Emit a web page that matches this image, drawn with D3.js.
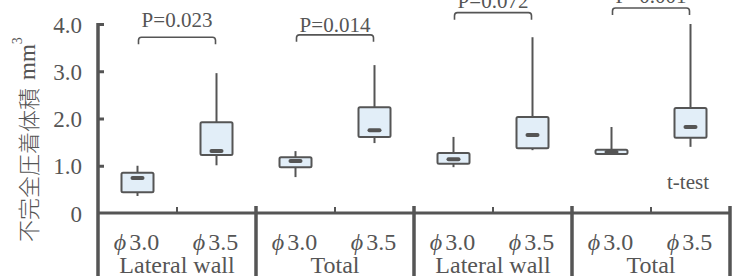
<!DOCTYPE html>
<html>
<head>
<meta charset="utf-8">
<script src="https://cdn.jsdelivr.net/npm/d3@7"></script>
<style>
  body { margin: 0; background: #fff; }
  svg { display: block; }
  text { font-family: "Liberation Serif", "DejaVu Serif", serif; }
</style>
</head>
<body>
<div class="visualization"></div>
<script>
// data (volume, mm^3)
const groups = ['Lateral wall', 'Total', 'Lateral wall ', 'Total '];
const sizes = ['3.0', '3.5'];
const mins    = [0.36, 1.01, 0.76, 1.48, 0.97, 1.33, 1.25, 1.40];
const q1s     = [0.44, 1.23, 0.97, 1.61, 1.04, 1.37, 1.25, 1.59];
const medians = [0.74, 1.31, 1.10, 1.75, 1.14, 1.65, 1.29, 1.82];
const q3s     = [0.85, 1.92, 1.18, 2.24, 1.27, 2.03, 1.34, 2.22];
const maxs    = [1.00, 2.96, 1.31, 3.13, 1.61, 3.72, 1.82, 4.00];
const pLabels = ['P=0.023', 'P=0.014', 'P=0.072', 'P=0.001'];
const bracketLevels = [3.72, 3.77, 4.24, 4.34];
const yTicks = [0, 1, 2, 3, 4];

const width = 741, height = 276;
const ink = '#555';
const serif = 'Liberation Serif, DejaVu Serif, serif';

const svg = d3.select('.visualization').append('svg')
    .attr('width', width)
    .attr('height', height)
    .attr('font-family', serif);

const y = d3.scaleLinear().domain([0, 4]).range([213, 24]);
const xGroup = d3.scaleBand().domain(groups).range([98, 730]).padding(0);
const xInner = d3.scalePoint().domain(sizes).range([0, xGroup.bandwidth()]).padding(0.5);

const boxes = [];
groups.forEach((g, gi) => sizes.forEach((s, si) => {
    const i = gi * 2 + si;
    boxes.push({g, s, min: mins[i], q1: q1s[i], med: medians[i], q3: q3s[i], max: maxs[i]});
}));
const cx = d => xGroup(d.g) + xInner(d.s);
const boxW = 32;

// y axis
const yAxis = svg.append('g')
    .attr('transform', 'translate(98,0)')
    .call(d3.axisRight(y).tickValues(yTicks).tickSize(6)
        .tickFormat(d => d === 0 ? '0' : d3.format('.1f')(d)));
yAxis.attr('font-family', serif);
yAxis.select('.domain').remove();
yAxis.selectAll('.tick line').attr('stroke', ink).attr('stroke-width', 3)
    .filter(d => d === 0).remove();
yAxis.selectAll('.tick text')
    .attr('x', -16).attr('dy', '0.35em')
    .attr('text-anchor', 'end')
    .attr('font-size', 23).attr('fill', ink);
svg.append('line')
    .attr('x1', 98).attr('x2', 98).attr('y1', y(4) - 1).attr('y2', height)
    .attr('stroke', ink).attr('stroke-width', 3.5);

// x axis and dividers
svg.append('line')
    .attr('x1', 98).attr('x2', 731).attr('y1', y(0)).attr('y2', y(0))
    .attr('stroke', ink).attr('stroke-width', 3);
svg.append('g').selectAll('line')
    .data(groups.slice(1).map(g => xGroup(g)).concat([xGroup.range()[1]]))
    .join('line')
    .attr('x1', d => d).attr('x2', d => d)
    .attr('y1', y(0) - 7).attr('y2', height)
    .attr('stroke', ink).attr('stroke-width', 3.5);
svg.append('g').selectAll('line')
    .data(groups)
    .join('line')
    .attr('x1', d => xGroup(d) + xGroup.bandwidth() / 2)
    .attr('x2', d => xGroup(d) + xGroup.bandwidth() / 2)
    .attr('y1', y(0) - 6).attr('y2', y(0))
    .attr('stroke', ink).attr('stroke-width', 2);

// x labels
const sizeLabels = svg.append('g').selectAll('text')
    .data(boxes)
    .join('text')
    .attr('x', d => cx(d) - 1)
    .attr('y', 250)
    .attr('text-anchor', 'middle')
    .attr('font-size', 24).attr('fill', ink);
sizeLabels.append('tspan').attr('font-style', 'italic').text('\u03d5');
sizeLabels.append('tspan').attr('dx', 3).text(d => d.s);

svg.append('g').selectAll('text')
    .data(groups)
    .join('text')
    .attr('x', d => xGroup(d) + xGroup.bandwidth() / 2)
    .attr('y', 273)
    .attr('text-anchor', 'middle')
    .attr('font-size', 24).attr('fill', ink)
    .text(d => d.trim());

// whiskers
const plot = svg.append('g');
plot.selectAll('.wtop').data(boxes).join('line')
    .attr('class', 'wtop')
    .attr('x1', cx).attr('x2', cx)
    .attr('y1', d => y(d.max)).attr('y2', d => y(d.q3))
    .attr('stroke', ink).attr('stroke-width', 2);
plot.selectAll('.wbot').data(boxes).join('line')
    .attr('class', 'wbot')
    .attr('x1', cx).attr('x2', cx)
    .attr('y1', d => y(d.q1)).attr('y2', d => y(d.min))
    .attr('stroke', ink).attr('stroke-width', 2);

// boxes
plot.selectAll('.box').data(boxes).join('rect')
    .attr('class', 'box')
    .attr('x', d => cx(d) - boxW / 2)
    .attr('width', boxW)
    .attr('y', d => y(d.q3))
    .attr('height', d => y(d.q1) - y(d.q3))
    .attr('rx', 1.5)
    .attr('fill', '#e2eef8')
    .attr('stroke', ink).attr('stroke-width', 2);

// medians
plot.selectAll('.med').data(boxes).join('rect')
    .attr('class', 'med')
    .attr('x', d => cx(d) - 7)
    .attr('width', 14)
    .attr('y', d => y(d.med) - 2)
    .attr('height', 4)
    .attr('rx', 2)
    .attr('fill', ink);

// significance brackets
const labelGap = [10, 3, 5, 5];
const brackets = svg.append('g');
groups.forEach((g, gi) => {
    const x1 = xGroup(g) + xInner(sizes[0]) + 1;
    const x2 = xGroup(g) + xInner(sizes[1]) - 1;
    const yb = y(bracketLevels[gi]);
    const path = d3.path();
    path.moveTo(x1, yb + 7);
    path.lineTo(x1, yb + 3);
    path.quadraticCurveTo(x1, yb, x1 + 3, yb);
    path.lineTo(x2 - 3, yb);
    path.quadraticCurveTo(x2, yb, x2, yb + 3);
    path.lineTo(x2, yb + 7);
    brackets.append('path')
        .attr('d', path.toString())
        .attr('fill', 'none')
        .attr('stroke', ink).attr('stroke-width', 1.6);
    brackets.append('text')
        .attr('x', (x1 + x2) / 2)
        .attr('y', yb - labelGap[gi])
        .attr('text-anchor', 'middle')
        .attr('font-size', 21).attr('fill', ink)
        .text(pLabels[gi]);
});

// t-test note
svg.append('text')
    .attr('x', 688).attr('y', 189)
    .attr('text-anchor', 'middle')
    .attr('font-size', 21).attr('fill', ink)
    .text('t-test');

// y label
const yLabel = svg.append('text')
    .attr('transform', 'translate(27,242) rotate(-90)')
    .attr('dominant-baseline', 'central')
    .attr('fill', ink);
yLabel.append('tspan')
    .attr('font-family', 'Noto Sans CJK JP, sans-serif')
    .attr('font-weight', 300)
    .attr('font-size', 22)
    .text('不完全圧着体積');
yLabel.append('tspan')
    .attr('dx', 8)
    .attr('font-size', 23)
    .text('mm');
yLabel.append('tspan')
    .attr('dy', -10)
    .attr('font-size', 14)
    .text('3');
</script>
</body>
</html>
